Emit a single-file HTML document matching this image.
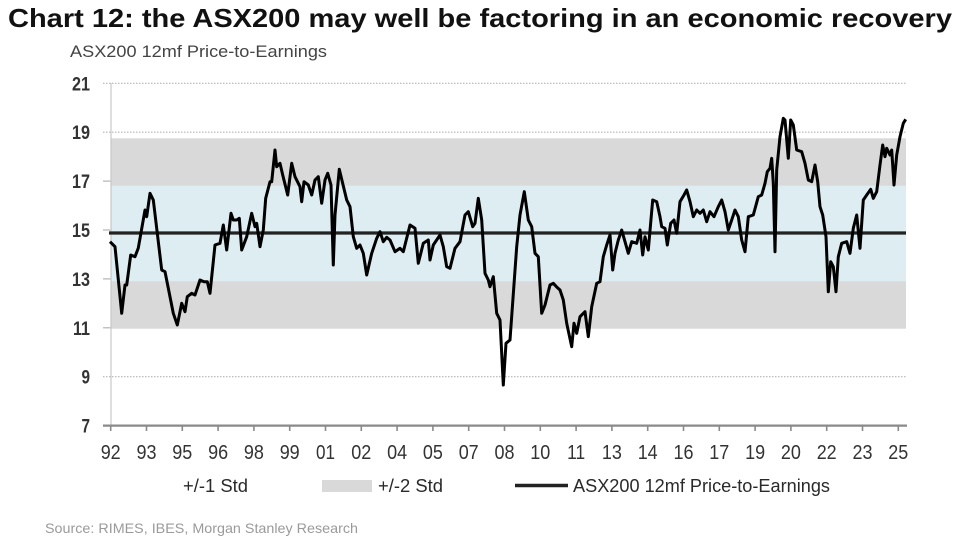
<!DOCTYPE html>
<html><head><meta charset="utf-8"><style>
html,body{margin:0;padding:0;background:#fff;}
svg{display:block;}
text{font-family:"Liberation Sans",sans-serif;}
</style></head><body>
<svg width="978" height="550" viewBox="0 0 978 550" xmlns="http://www.w3.org/2000/svg">
<rect width="978" height="550" fill="#fff"/>
<text x="8" y="27" font-size="26" font-weight="bold" fill="#111" textLength="944" lengthAdjust="spacingAndGlyphs">Chart 12: the ASX200 may well be factoring in an economic recovery</text>
<text x="70" y="57" font-size="17" fill="#444" textLength="257" lengthAdjust="spacingAndGlyphs">ASX200 12mf Price-to-Earnings</text>

<rect x="111" y="138.3" width="795" height="190.4" fill="#d9d9d9"/>
<rect x="111" y="185.7" width="795" height="95.6" fill="#deedf2"/>

<g stroke="#b5b5b5" stroke-width="1.2" stroke-dasharray="1.5 1.5">
<line x1="103" y1="83.3" x2="906" y2="83.3"/>
<line x1="103" y1="132.2" x2="906" y2="132.2"/>
<line x1="103" y1="376.7" x2="906" y2="376.7"/>
</g>
<g stroke="#b5b5b5" stroke-width="1.2">
<line x1="103" y1="181.1" x2="111" y2="181.1"/>
<line x1="103" y1="230" x2="111" y2="230"/>
<line x1="103" y1="278.9" x2="111" y2="278.9"/>
<line x1="103" y1="327.8" x2="111" y2="327.8"/>
</g>
<line x1="111" y1="83" x2="111" y2="425" stroke="#c8c8c8" stroke-width="1.2"/>

<g font-size="19" fill="#333" text-anchor="end" font-weight="bold">
<text x="90" y="90.3" textLength="18" lengthAdjust="spacingAndGlyphs">21</text>
<text x="90" y="139.2" textLength="18" lengthAdjust="spacingAndGlyphs">19</text>
<text x="90" y="188.1" textLength="18" lengthAdjust="spacingAndGlyphs">17</text>
<text x="90" y="237" textLength="18" lengthAdjust="spacingAndGlyphs">15</text>
<text x="90" y="285.9" textLength="18" lengthAdjust="spacingAndGlyphs">13</text>
<text x="90" y="334.8" textLength="17" lengthAdjust="spacingAndGlyphs">11</text>
<text x="90" y="383.7" textLength="8.5" lengthAdjust="spacingAndGlyphs">9</text>
<text x="90" y="432.6" textLength="8.5" lengthAdjust="spacingAndGlyphs">7</text>
</g>

<line x1="109" y1="233" x2="906" y2="233" stroke="#222" stroke-width="3.2"/>

<polyline fill="none" stroke="#000" stroke-width="3" stroke-linejoin="round" points="110,241.7 115,246.7 121.7,313.3 125,285 126.7,285 130.7,255 135,256.7 138.3,248 145,210 146.7,216.7 150,193.3 153.3,200 161.7,270 165,271.7 173.3,313.3 177.3,325 181.7,303.3 185,311.7 187.3,296.7 191.7,293.3 195,295 200,280 204,281.7 207.3,281.7 210,293.3 215,245 220,243.3 223.3,225 226.7,250 231,213.3 233.3,220 236.7,220 239.3,218.3 241.7,250 246.7,236.7 251.7,213.3 255,226.7 256.7,223.3 260,246.7 263.3,230 265.7,198.3 270,181.7 271.7,181.7 275,150 276.7,166.7 280,163.3 282.7,175 287.7,195 291.7,163.3 295,176.7 300,186.7 301.7,201.7 304,181.7 308.3,185 311.7,195 315,180 318.3,176.7 321.7,203.3 325,180 327.7,173.3 331,185 333.3,265 335,215 339.3,169.3 346.7,200 350,206.7 353.3,236.7 356.7,248.3 360,245 363.3,253.3 366.7,275 371.7,253.3 376.7,238.3 380,231.7 383.3,241.7 386.7,237.3 390,240 395,251.7 400,248.3 403.3,251.7 410,225 415,228.3 418.3,263.3 423.3,243.3 428.3,240 430,260 433.3,245 440,235 443.3,246.7 446.7,266.7 450,268.3 455,248.3 460,241.7 465,215 468.3,211.7 472.7,226.7 475,223.3 478.3,198.3 481.7,220 485,273.3 488.3,280 490,286.7 493.3,276.7 496.7,313.3 500,320 503.3,385 506,343.3 510,340 516.7,246.7 520,215 524.3,191.7 528.3,220 531.7,226.7 535,253.3 538.3,256.7 541.7,313.3 545,305 550,285 553.3,283.3 556.7,287 560,290 563.3,300 566.7,323.3 571.7,346.7 574,323.3 576.7,333.3 580,316.7 585,311.7 588.3,336.7 591.7,306.7 596.7,283.3 600,281.7 603.3,256.7 606.7,245 610,235 612.7,270 615,253.3 618.3,240 621.7,230 625,241.7 628.3,253.3 631.7,241.7 636.7,243.3 640,230 642.7,255 645,236.7 648.3,250 652.7,200 656.7,201.7 660,216.7 661.7,226.7 665,228.3 667.3,245 670.7,223.3 674,220 676.7,233.3 680,201.7 684,195 686.7,190 690,201.7 693.3,216.7 696.7,210 700,213.3 703.3,210 706.7,221.7 710,211.7 714,216.7 718.3,206.7 721.7,200 725,211.7 728.3,230 731.7,220 735,210 738.3,216.7 741.7,240 745,251.7 748.3,216.7 753.3,215 758.3,196.7 761.7,195 765,183.3 767.3,171.7 770,168.3 771.7,158.3 773.3,183.3 775,251.7 776.7,170 780,136.7 783.3,118.3 785,120 788.3,158.3 790.7,120 793.3,125 796.7,150 801.7,151.7 805,163.3 808.3,180 811.7,181.7 815,165 817.7,181.7 820,206.7 822.7,215 826,236.7 828.3,291.7 830.7,261.7 833.3,266.7 836,291.7 838.3,256.7 841.7,243.3 846.7,241.7 850,253.3 853.3,228.3 856.7,215 860,248.3 863.3,200 866.7,195 870.7,189.3 873.3,198.3 876.7,191.7 880,165 882.7,145 885,156.7 886.7,148.3 890,155 891.7,150 894,185 896.7,155 900,136.7 903.3,123.3 905.7,119.3"/>

<line x1="103" y1="425.6" x2="907" y2="425.6" stroke="#8a8a8a" stroke-width="2.2"/>
<g stroke="#8a8a8a" stroke-width="1.6">
<line x1="110.7" y1="425" x2="110.7" y2="431"/><line x1="146.5" y1="425" x2="146.5" y2="431"/><line x1="182.3" y1="425" x2="182.3" y2="431"/><line x1="218.1" y1="425" x2="218.1" y2="431"/><line x1="253.9" y1="425" x2="253.9" y2="431"/><line x1="289.7" y1="425" x2="289.7" y2="431"/><line x1="325.5" y1="425" x2="325.5" y2="431"/><line x1="361.3" y1="425" x2="361.3" y2="431"/><line x1="397.1" y1="425" x2="397.1" y2="431"/><line x1="432.9" y1="425" x2="432.9" y2="431"/><line x1="468.7" y1="425" x2="468.7" y2="431"/><line x1="504.5" y1="425" x2="504.5" y2="431"/><line x1="540.3" y1="425" x2="540.3" y2="431"/><line x1="576.1" y1="425" x2="576.1" y2="431"/><line x1="611.9" y1="425" x2="611.9" y2="431"/><line x1="647.7" y1="425" x2="647.7" y2="431"/><line x1="683.5" y1="425" x2="683.5" y2="431"/><line x1="719.3" y1="425" x2="719.3" y2="431"/><line x1="755.1" y1="425" x2="755.1" y2="431"/><line x1="790.9" y1="425" x2="790.9" y2="431"/><line x1="826.7" y1="425" x2="826.7" y2="431"/><line x1="862.5" y1="425" x2="862.5" y2="431"/><line x1="898.3" y1="425" x2="898.3" y2="431"/>
</g>
<g font-size="20" fill="#333" text-anchor="middle">
<text x="110.7" y="459" textLength="20" lengthAdjust="spacingAndGlyphs">92</text>
<text x="146.5" y="459" textLength="20" lengthAdjust="spacingAndGlyphs">93</text>
<text x="182.3" y="459" textLength="20" lengthAdjust="spacingAndGlyphs">95</text>
<text x="218.1" y="459" textLength="20" lengthAdjust="spacingAndGlyphs">96</text>
<text x="253.9" y="459" textLength="20" lengthAdjust="spacingAndGlyphs">98</text>
<text x="289.7" y="459" textLength="20" lengthAdjust="spacingAndGlyphs">99</text>
<text x="325.5" y="459" textLength="19" lengthAdjust="spacingAndGlyphs">01</text>
<text x="361.3" y="459" textLength="20" lengthAdjust="spacingAndGlyphs">02</text>
<text x="397.1" y="459" textLength="20" lengthAdjust="spacingAndGlyphs">04</text>
<text x="432.9" y="459" textLength="20" lengthAdjust="spacingAndGlyphs">05</text>
<text x="468.7" y="459" textLength="20" lengthAdjust="spacingAndGlyphs">07</text>
<text x="504.5" y="459" textLength="20" lengthAdjust="spacingAndGlyphs">08</text>
<text x="540.3" y="459" textLength="20" lengthAdjust="spacingAndGlyphs">10</text>
<text x="576.1" y="459" textLength="18" lengthAdjust="spacingAndGlyphs">11</text>
<text x="611.9" y="459" textLength="20" lengthAdjust="spacingAndGlyphs">13</text>
<text x="647.7" y="459" textLength="20" lengthAdjust="spacingAndGlyphs">14</text>
<text x="683.5" y="459" textLength="20" lengthAdjust="spacingAndGlyphs">16</text>
<text x="719.3" y="459" textLength="20" lengthAdjust="spacingAndGlyphs">17</text>
<text x="755.1" y="459" textLength="20" lengthAdjust="spacingAndGlyphs">19</text>
<text x="790.9" y="459" textLength="20" lengthAdjust="spacingAndGlyphs">20</text>
<text x="826.7" y="459" textLength="20" lengthAdjust="spacingAndGlyphs">22</text>
<text x="862.5" y="459" textLength="20" lengthAdjust="spacingAndGlyphs">23</text>
<text x="898.3" y="459" textLength="20" lengthAdjust="spacingAndGlyphs">25</text>
</g>

<g font-size="18" fill="#2a2a2a">
<text x="183" y="492" textLength="65" lengthAdjust="spacingAndGlyphs">+/-1 Std</text>
<rect x="322" y="480" width="50" height="12" fill="#d9d9d9"/>
<text x="378" y="492" textLength="65" lengthAdjust="spacingAndGlyphs">+/-2 Std</text>
<line x1="515" y1="485.5" x2="568" y2="485.5" stroke="#222" stroke-width="3.5"/>
<text x="573" y="492" textLength="257" lengthAdjust="spacingAndGlyphs">ASX200 12mf Price-to-Earnings</text>
</g>

<text x="45" y="533" font-size="14" fill="#9a9a9a" textLength="313" lengthAdjust="spacingAndGlyphs">Source: RIMES, IBES, Morgan Stanley Research</text>
</svg>
</body></html>
